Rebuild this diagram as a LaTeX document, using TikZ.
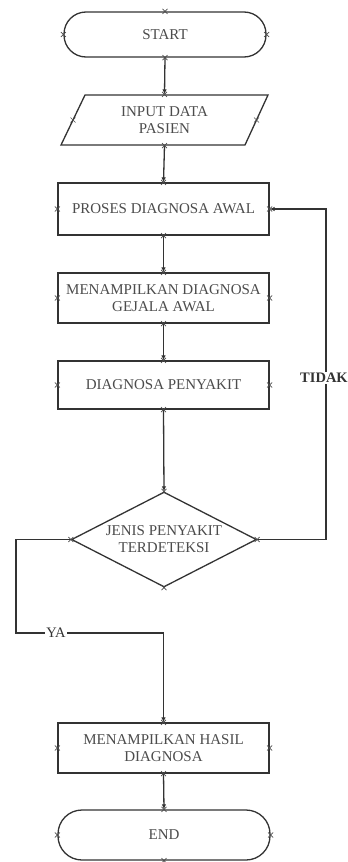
\documentclass[tikz,border=0pt]{standalone}
\usepackage{fontspec}
\setmainfont{Liberation Serif}
\usetikzlibrary{shapes.geometric,arrows.meta,calc}
\begin{document}
\begin{tikzpicture}[x=1pt,y=-1pt,
  line width=1.3pt,
  shapecol/.style={draw=black!80},
  txt/.style={text=black!70,font=\fontsize{15}{17}\selectfont,align=center,inner sep=0pt},
  procbox/.style={shapecol,rectangle,minimum width=211pt,minimum height=50pt,txt},
  termbox/.style={shapecol,rectangle,rounded corners=22pt,minimum width=202pt,minimum height=45pt,txt},
  arr/.style={draw=black!80,-{Latex[length=5pt,width=4.5pt]}},
  lbl/.style={fill=white,inner sep=1pt,text=black!80},
  cp/.style={draw=black!70,line width=0.6pt}
]
\newcommand{\cpmark}[1]{\draw[cp] ($(#1)+(-2.5,-2.5)$) -- ($(#1)+(2.5,2.5)$) ($(#1)+(-2.5,2.5)$) -- ($(#1)+(2.5,-2.5)$);}
\useasboundingbox (0,0) rectangle (348,862);
\fill[white] (0,0) rectangle (348,862);

% shapes
\node[termbox] (start) at (165,34.5) {START};
\coordinate (pA) at (85,95);
\coordinate (pB) at (268,95);
\coordinate (pC) at (245,145);
\coordinate (pD) at (61,145);
\draw[shapecol] (pA) -- (pB) -- (pC) -- (pD) -- cycle;
\node[txt,minimum width=180pt,minimum height=50pt] (input) at (164.5,120) {INPUT DATA\\PASIEN};
\node[procbox,minimum height=52pt] (proses) at (163.5,209) {PROSES DIAGNOSA AWAL};
\node[procbox] (tampil) at (163.5,298) {MENAMPILKAN DIAGNOSA\\GEJALA AWAL};
\node[procbox,minimum height=48pt] (diag) at (163.5,385) {DIAGNOSA PENYAKIT};
\node[shapecol,diamond,minimum width=185pt,minimum height=95pt,inner sep=0pt] (dec) at (164,539.5) {};
\node[txt] (dect) at (dec.center) {JENIS PENYAKIT\\TERDETEKSI};
\node[procbox] (hasil) at (163.5,748) {MENAMPILKAN HASIL\\DIAGNOSA};
\node[termbox,minimum width=212pt,minimum height=50pt,rounded corners=24pt] (end) at (164,835) {END};

% connectors
\draw[arr] (start.south) -- (input.north);
\draw[arr] (input.south) -- (proses.north);
\draw[arr] (proses.south) -- (tampil.north);
\draw[arr] (tampil.south) -- (diag.north);
\draw[arr] (diag.south) -- (dec.north);
\coordinate (yaTurn) at (16,633);
\draw[arr] (dec.west) -| (yaTurn) -| (hasil.north);
\coordinate (tdTurn) at (326,539.5);
\draw[arr] (dec.east) -- (tdTurn) |- (proses.east);
\draw[arr] (hasil.south) -- (end.north);

% labels
\node[lbl,font=\fontsize{14.5}{16}\selectfont] (ya) at (56,633) {YA};
\node[lbl,font=\bfseries\fontsize{14.5}{16}\selectfont] (tidak) at (324,378) {TIDAK};

% connection points
\foreach \n in {start,proses,tampil,diag,dec,hasil,end}{
  \cpmark{\n.north}\cpmark{\n.south}\cpmark{\n.east}\cpmark{\n.west}
}
\cpmark{input.north}\cpmark{input.south}
\coordinate (inL) at (73,120);
\coordinate (inR) at (256.5,120);
\cpmark{inL}\cpmark{inR}
\end{tikzpicture}
\end{document}
